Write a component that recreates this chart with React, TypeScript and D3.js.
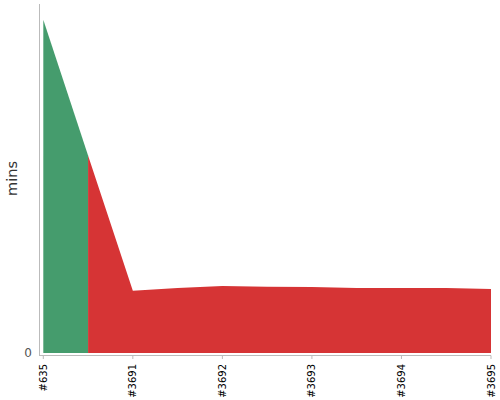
import { useEffect, useRef } from 'react';
import * as d3 from 'd3';

// build durations in minutes, one point per build (every other one is labelled)
const minutes = [38.2, 22.65, 7.14, 7.45, 7.68, 7.6, 7.56, 7.45, 7.45, 7.45, 7.33];
const passedUntil = 1; // builds 0..1 green, 1..end red
const tickLabels = ['#635', '#3691', '#3692', '#3693', '#3694', '#3695'];
const tickIndex = [0, 2, 4, 6, 8, 10];

export default function App() {
    const svgRef = useRef<SVGSVGElement>(null);

    useEffect(() => {
        if (!svgRef.current) return;
        const svg = d3.select(svgRef.current);
        svg.selectAll('*').remove();

        const x = d3.scaleLinear().domain([0, minutes.length - 1]).range([43.3, 491]);
        const y = d3.scaleLinear().domain([0, 40]).range([353, 4]);

        const area = d3.area<number>()
            .x((_, i) => x(i))
            .y0(y(0))
            .y1(d => y(d));

        const pts = minutes.map((m, i) => ({ m, i }));
        const areaIdx = d3.area<{ m: number; i: number }>()
            .x(d => x(d.i))
            .y0(y(0))
            .y1(d => y(d.m));

        svg.append('path')
            .attr('d', areaIdx(pts.slice(0, passedUntil + 1)) as string)
            .attr('fill', '#459c6d');
        svg.append('path')
            .attr('d', areaIdx(pts.slice(passedUntil)) as string)
            .attr('fill', '#d63435');
        void area;

        // y axis
        svg.append('line')
            .attr('x1', 39.5).attr('x2', 39.5)
            .attr('y1', y(40)).attr('y2', 356)
            .attr('stroke', '#bbb');
        svg.append('text')
            .attr('x', 32).attr('y', y(0))
            .attr('dy', '0.35em')
            .attr('text-anchor', 'end')
            .style('font-family', 'DejaVu Sans')
            .style('font-size', '12px')
            .style('fill', '#555')
            .text('0');
        svg.append('text')
            .attr('transform', `translate(17,${(y(40) + y(0)) / 2}) rotate(-90)`)
            .attr('text-anchor', 'middle')
            .style('font-family', 'DejaVu Sans')
            .style('font-size', '14.5px')
            .style('fill', '#333')
            .text('mins');

        // x axis
        svg.append('line')
            .attr('x1', 39.5).attr('x2', x(minutes.length - 1))
            .attr('y1', 355.5).attr('y2', 355.5)
            .attr('stroke', '#bbb');
        const ticks = svg.append('g');
        tickIndex.forEach((ti, k) => {
            const tx = x(ti);
            ticks.append('line')
                .attr('x1', tx).attr('x2', tx)
                .attr('y1', 355.5).attr('y2', 359)
                .attr('stroke', '#bbb');
            ticks.append('text')
                .attr('transform', `translate(${tx},364) rotate(-90)`)
                .attr('text-anchor', 'end')
                .attr('dy', '0.35em')
                .style('font-family', 'DejaVu Sans')
                .style('font-size', '10px')
                .style('fill', '#000')
                .text(tickLabels[k]);
        });
    }, []);

    return (
        <svg ref={svgRef} width={500} height={400}
            style={{ position: 'absolute', left: 0, top: 0, background: '#fff' }} />
    );
}
